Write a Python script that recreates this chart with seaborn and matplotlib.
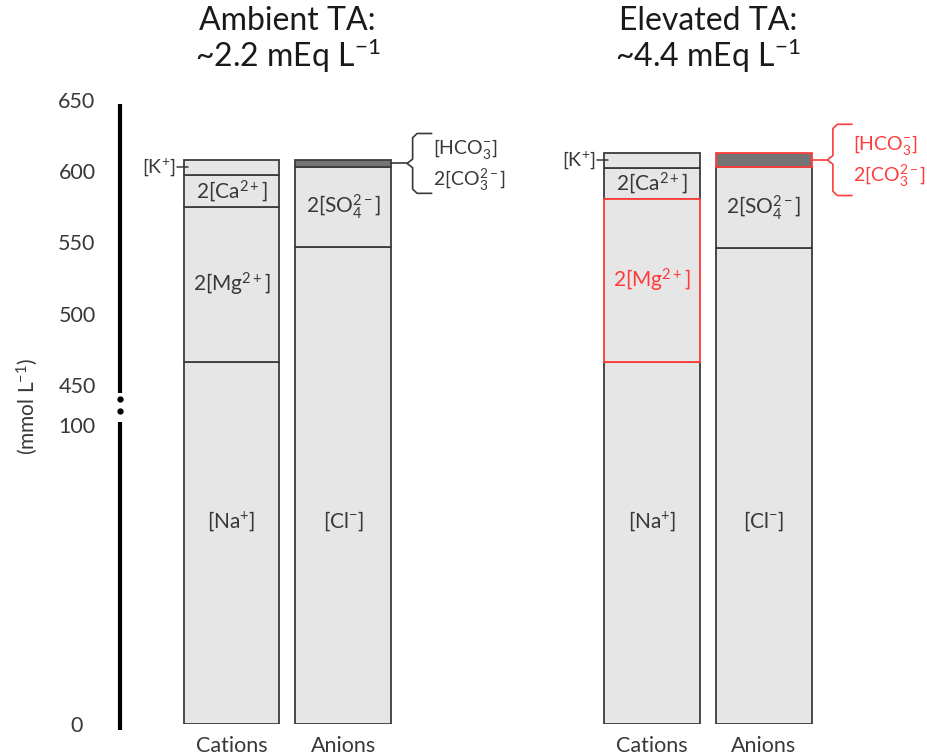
import numpy as np
import pandas as pd
import matplotlib
matplotlib.use("Agg")
import matplotlib.pyplot as plt
import seaborn as sns

# --- data (mmol L-1, charge-weighted) ---
groups = ["Ambient TA:\n~2.2 mEq L$^{-1}$", "Elevated TA:\n~4.4 mEq L$^{-1}$"]
sides = ["Cations", "Anions"]

cation_ions = ["Na", "Mg", "Ca", "K"]
cation_labels = ["[Na$^{+}$]", "2[Mg$^{2+}$]", "2[Ca$^{2+}$]", "[K$^{+}$]"]
ambient_cations = [466.4, 108.7, 22.3, 10.5]
elevated_cations = [466.4, 113.9, 22.2, 10.6]

anion_ions = ["Cl", "SO4", "Carb"]
anion_labels = ["[Cl$^{-}$]", "2[SO$_4^{2-}$]", "[HCO$_3^{-}$]\n2[CO$_3^{2-}$]"]
ambient_anions = [547.1, 56.0, 4.8]
elevated_anions = [546.4, 56.4, 10.3]

# segments changed under elevated TA
highlight = [("Elevated", "Mg"), ("Elevated", "Carb")]

# --- layout ---
group_x = [0.0, 3.755]          # x of the cation bar in each group
BAR_W = 0.857
LIGHT = "#e6e6e6"
DARK = "#747474"
EDGE = "#3c3c3c"
RED = "#ff3b3b"
TXT = "#383838"

rows = []
for g, (gname, cat_vals, an_vals) in enumerate(
        [("Ambient", ambient_cations, ambient_anions),
         ("Elevated", elevated_cations, elevated_anions)]):
    for s, (ions, labels, vals) in enumerate(
            [(cation_ions, cation_labels, cat_vals),
             (anion_ions, anion_labels, an_vals)]):
        bottom = 0.0
        for ion, lab, v in zip(ions, labels, vals):
            rows.append(dict(group=gname, side=sides[s], ion=ion, label=lab,
                             x=group_x[g] + s, bottom=bottom, value=v))
            bottom += v
df = pd.DataFrame(rows)
df["top"] = df["bottom"] + df["value"]


# broken y axis: 0-100 and 450-650 share one axis through a piecewise scale
def fwd(v):
    v = np.asarray(v, dtype=float)
    return np.where(v <= 100, 2.99 * v,
                    np.where(v < 450, 299 + (v - 100) * 40 / 350,
                             339 + (v - 450) * 1.425))


def inv(u):
    u = np.asarray(u, dtype=float)
    return np.where(u <= 299, u / 2.99,
                    np.where(u < 339, 100 + (u - 299) * 350 / 40,
                             450 + (u - 339) / 1.425))


sns.set_theme(style="white")
plt.rcParams["font.family"] = ["Lato", "DejaVu Sans"]
plt.rcParams["mathtext.fontset"] = "custom"
plt.rcParams["mathtext.rm"] = "Lato"
plt.rcParams["mathtext.it"] = "Lato:italic"
plt.rcParams["mathtext.bf"] = "Lato:bold"

fig = plt.figure(figsize=(9.28, 7.56), dpi=100)
ax = fig.add_axes([120 / 928, 32 / 756, 780 / 928, 624 / 756])

for _, r in df.iterrows():
    red = (r["group"], r["ion"]) in highlight
    sns.barplot(x=[r["x"]], y=[r["value"]], bottom=r["bottom"], native_scale=True,
                width=BAR_W, color=DARK if r["ion"] == "Carb" else LIGHT,
                saturation=1, edgecolor=RED if red else EDGE,
                linewidth=1.3, errorbar=None, zorder=3 if red else 2, ax=ax)

ax.set_yscale("function", functions=(fwd, inv))
ax.set_ylim(0, 650)
ax.set_xlim(-0.996, 5.973)

# segment labels
for _, r in df.iterrows():
    red = (r["group"], r["ion"]) in highlight
    col = RED if red else TXT
    if r["ion"] in ("Na", "Cl"):
        ax.text(r["x"], 68, r["label"], ha="center", va="center", fontsize=15, color=col)
    elif r["ion"] in ("Mg", "Ca", "SO4"):
        ax.text(r["x"], (r["bottom"] + r["top"]) / 2, r["label"], ha="center",
                va="center", fontsize=15, color=col)
    elif r["ion"] == "K":
        yk = (r["bottom"] + r["top"]) / 2
        left = r["x"] - BAR_W / 2
        ax.plot([left - 0.06, left + 0.04], [yk, yk], color=TXT, lw=1.1, zorder=4)
        ax.text(left - 0.07, yk, r["label"], ha="right", va="center", fontsize=14,
                color=TXT)
    else:
        # carbonate band: bracket + two-line label to the right
        ym = (r["bottom"] + r["top"]) / 2
        half = 21 if r["group"] == "Ambient" else 25
        right = r["x"] + BAR_W / 2
        mx, vx, hx = right + 0.14, right + 0.19, right + 0.36
        bx = [hx, vx + 0.04, vx, vx, mx, vx, vx, vx + 0.04, hx]
        by = [ym + half, ym + half, ym + half - 3, ym + 3, ym, ym - 3,
              ym - half + 3, ym - half, ym - half]
        ax.plot(bx, by, color=col, lw=1.2, clip_on=False)
        ax.plot([right, mx], [ym, ym], color=col, lw=1.2, clip_on=False, zorder=4)
        ax.text(hx + 0.01, ym - 1, r["label"], ha="left", va="center", fontsize=14,
                color=col, linespacing=1.3)

# group titles
for g, title in enumerate(groups):
    ax.text(group_x[g] + 0.5, 1.095, title, transform=ax.get_xaxis_transform(),
            ha="center", va="center", fontsize=23, color="#1a1a1a", linespacing=1.0)

# hand-drawn broken axis line
trans = ax.get_yaxis_transform()
ax.plot([0, 0], [383, 647], color="black", lw=3, transform=trans, clip_on=False,
        solid_capstyle="butt")
ax.plot([0, 0], [-2, 129], color="black", lw=3, transform=trans, clip_on=False,
        solid_capstyle="butt")
ax.plot([0, 0], [327, 222], "o", color="black", ms=3.5, transform=trans, clip_on=False)

for sp in ax.spines.values():
    sp.set_visible(False)

ax.set_yticks([0, 100, 450, 500, 550, 600, 650])
ax.set_yticklabels(["0", "100", "450", "500", "550", "600", "650"])
ax.set_xticks(df["x"].unique())
ax.set_xticklabels(sides * 2)
ax.tick_params(axis="y", length=0, pad=31, labelsize=15.5, labelcolor=TXT)
ax.tick_params(axis="x", length=0, pad=9, labelsize=15.5, labelcolor=TXT)
for t in ax.get_yticklabels():
    t.set_ha("center")
ax.set_xlabel("")
ax.set_ylabel("")

fig.text(27 / 928, 1 - 406 / 756, "(mmol L$^{-1}$)", rotation=90, ha="center",
         va="center", fontsize=15, color=TXT)

fig.savefig("out.png", dpi=100)
